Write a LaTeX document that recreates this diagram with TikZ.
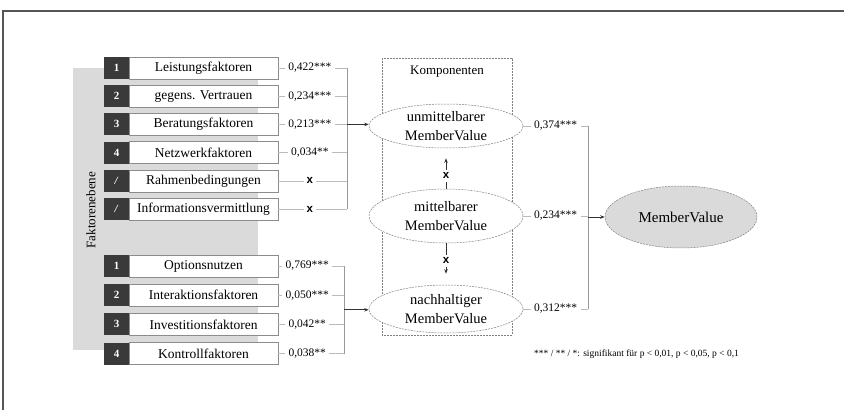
\documentclass[tikz,border=0pt]{standalone}
\usepackage{fontspec}
\setmainfont{Liberation Serif}
\newfontfamily\marksans{Liberation Sans}
\usetikzlibrary{arrows.meta,shapes.geometric}

\definecolor{numdark}{HTML}{3A3A3A}
\definecolor{panelgray}{HTML}{DADADA}
\definecolor{boxline}{HTML}{8C8C8C}
\definecolor{linkgray}{HTML}{BBBBBB}
\definecolor{framegray}{HTML}{555555}

\begin{document}
\begin{tikzpicture}[x=1pt,y=-1pt,
  numbox/.style={fill=numdark, text=white, minimum width=25pt, minimum height=22pt,
    inner sep=0pt, font=\fontsize{11}{12}\selectfont\bfseries},
  labbox/.style={draw=boxline, line width=0.6pt, fill=white, minimum width=149pt,
    minimum height=22pt, inner sep=0pt, font=\fontsize{13.5}{15}\selectfont},
  coef/.style={fill=white, inner sep=3.5pt, font=\fontsize{11.5}{13}\selectfont},
  nsmark/.style={fill=white, inner sep=3pt, font=\marksans\fontsize{11.5}{12}\selectfont\bfseries},
  link/.style={draw=linkgray, line width=0.6pt},
  brace/.style={draw=gray!80, line width=0.7pt},
  arr/.style={draw=black!80, line width=0.8pt, -{Stealth[length=4.5pt,width=3.5pt]}},
  comp/.style={ellipse, draw=gray, line width=0.5pt, dash pattern=on 2pt off 1pt,
    fill=white, minimum width=154pt, inner sep=0pt, align=center,
    font=\fontsize{14.5}{18.5}\selectfont},
  target/.style={ellipse, draw=gray, line width=0.5pt, dash pattern=on 2pt off 1pt,
    fill=panelgray, minimum width=152pt, minimum height=62pt, inner sep=0pt,
    font=\fontsize{15}{16}\selectfont}
]
\useasboundingbox (0,0) rectangle (844,410);

% page frame
\draw[framegray, line width=1.2pt] (3,410) -- (3,11) -- (844,11);

% factor level panel
\fill[panelgray] (73,68) rectangle (258,350);
\node[rotate=90, font=\fontsize{13}{14}\selectfont] (lvl) at (91,210) {Faktorenebene};

% components panel
\draw[gray, line width=0.5pt, dash pattern=on 2pt off 1pt] (382,58) rectangle (512,335);
\node[font=\fontsize{13}{14}\selectfont] (komp) at (447,72) {Komponenten};

% upper factor group
\foreach \i/\n/\t/\y in {1/1/Leistungsfaktoren/68, 2/2/gegens. Vertrauen/96.2,
    3/3/Beratungsfaktoren/124.4, 4/4/Netzwerkfaktoren/152.6,
    5/\textit{/}/Rahmenbedingungen/180.8, 6/\textit{/}/Informationsvermittlung/209} {
  \node[labbox] (l\i) at (203.5,\y) {\t};
  \node[numbox] (n\i) at (116.5,\y) {\n};
  \coordinate (b\i) at (347,\y);
}
% lower factor group
\foreach \i/\t/\y in {1/Optionsnutzen/266, 2/Interaktionsfaktoren/295.2,
    3/Investitionsfaktoren/324.4, 4/Kontrollfaktoren/353.6} {
  \node[labbox] (k\i) at (203.5,\y) {\t};
  \node[numbox] (m\i) at (116.5,\y) {\i};
  \coordinate (c\i) at (344,\y);
}

% component ellipses
\node[comp, minimum height=44pt] (um) at (446,126) {unmittelbarer\\MemberValue};
\node[comp, minimum height=54pt] (mm) at (446,216) {mittelbarer\\MemberValue};
\node[comp, minimum height=48pt] (nh) at (446,309) {nachhaltiger\\MemberValue};
\node[target] (mv) at (681,217) {MemberValue};

% links from the factors to the brackets
\foreach \i in {1,...,6} { \draw[link] (l\i.east) -- (b\i); }
\foreach \i in {1,...,4} { \draw[link] (k\i.east) -- (c\i); }
\draw[brace] (b1) -- (b6);
\draw[brace] (c1) -- (c4);
\coordinate (bm) at (347,124.4);
\coordinate (cm) at (344,309.8);
\draw[arr] (bm) -- (um.west |- bm);
\draw[arr] (cm) -- (nh.west |- cm);

% coefficients of the factors
\path (l1.east) -- (b1) node[coef, pos=0.46] {0,422***};
\path (l2.east) -- (b2) node[coef, pos=0.46] {0,234***};
\path (l3.east) -- (b3) node[coef, pos=0.46] {0,213***};
\path (l4.east) -- (b4) node[coef, pos=0.46] {0,034**};
\path (l5.east) -- (b5) node[nsmark, pos=0.46] {x};
\path (l6.east) -- (b6) node[nsmark, pos=0.46] {x};
\path (k1.east) -- (c1) node[coef, pos=0.44] {0,769***};
\path (k2.east) -- (c2) node[coef, pos=0.44] {0,050***};
\path (k3.east) -- (c3) node[coef, pos=0.44] {0,042**};
\path (k4.east) -- (c4) node[coef, pos=0.44] {0,038**};

% relations between the components
\draw[arr, shorten >=10pt] (mm.north) -- (um.south) node[nsmark, pos=0.32] {x};
\draw[arr, shorten >=11pt] (mm.south) -- (nh.north) node[nsmark, pos=0.42] {x};

% components to the overall value
\coordinate (r1) at (588,126);
\coordinate (r2) at (588,216);
\coordinate (r3) at (588,309);
\draw[link] (um.east) -- (r1);
\draw[link] (mm.east) -- (r2);
\draw[link] (nh.east) -- (r3);
\draw[brace] (r1) -- (r3);
\coordinate (rm) at (588,217);
\draw[arr] (rm) -- (mv.west);
\path (um.east) -- (r1) node[coef, pos=0.5] {0,374***};
\path (mm.east) -- (r2) node[coef, pos=0.5] {0,234***};
\path (nh.east) -- (r3) node[coef, pos=0.5] {0,312***};

% significance note
\node[anchor=west, inner sep=0pt, font=\fontsize{9.5}{11}\selectfont] (note) at (534,354)
  {*** / ** / *: signifikant für p < 0,01, p < 0,05, p < 0,1};
\end{tikzpicture}
\end{document}
